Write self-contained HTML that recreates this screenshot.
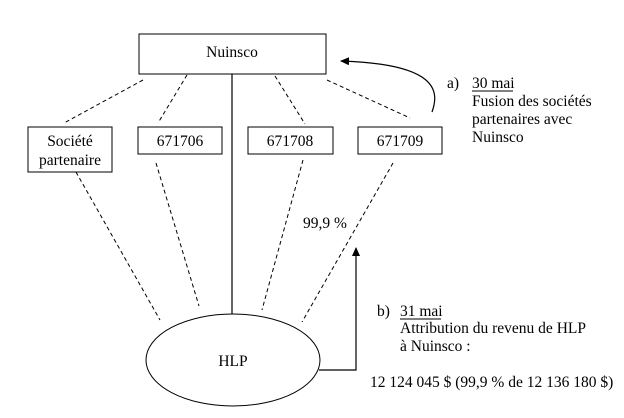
<!DOCTYPE html>
<html><head><style>
body{margin:0;background:#fff;width:624px;height:418px;overflow:hidden}
svg{display:block}
text{font-family:"Liberation Serif",serif;font-size:15.5px;fill:#000}
</style></head><body>
<svg width="624" height="418" viewBox="0 0 624 418">
<defs><marker id="ah" markerWidth="9" markerHeight="8" refX="8" refY="4" orient="auto" markerUnits="userSpaceOnUse"><path d="M0,0 L9,4 L0,8 Z" fill="#000"/></marker></defs>
<g fill="#fff" stroke="#000" stroke-width="1">
<rect x="139" y="34" width="187" height="40"/>
<rect x="28" y="127" width="84" height="45"/>
<rect x="138" y="127" width="84" height="27"/>
<rect x="248" y="127" width="85" height="27"/>
<rect x="358" y="127" width="84" height="27"/>
<ellipse cx="233" cy="360" rx="87" ry="46"/>
</g>
<g stroke="#000" stroke-width="1" fill="none" stroke-dasharray="4,3">
<line x1="143" y1="80" x2="64" y2="123"/>
<line x1="187" y1="75" x2="158" y2="123"/>
<line x1="275" y1="76" x2="305" y2="124"/>
<line x1="327" y1="80" x2="410" y2="118"/>
<line x1="76" y1="172" x2="160" y2="320"/>
<line x1="156" y1="163" x2="199" y2="306"/>
<line x1="303" y1="160" x2="262" y2="310"/>
<line x1="393" y1="163" x2="302" y2="322"/>
</g>
<g stroke="#000" stroke-width="1.2" fill="none">
<line x1="232" y1="74" x2="232" y2="314"/>
<polyline points="319,370 356,370 356,248" marker-end="url(#ah)"/>
<path d="M432,112 C440,90 436,64 341,61" marker-end="url(#ah)"/>
</g>
<text x="232" y="57" text-anchor="middle">Nuinsco</text>
<text x="70" y="146" text-anchor="middle">Société</text>
<text x="70" y="165" text-anchor="middle">partenaire</text>
<text x="180" y="146" text-anchor="middle">671706</text>
<text x="290" y="146" text-anchor="middle">671708</text>
<text x="400" y="146" text-anchor="middle">671709</text>
<text x="233" y="366" text-anchor="middle">HLP</text>
<text x="303" y="228">99,9 %</text>
<text x="447" y="88">a)</text>
<text x="472" y="88">30 mai</text>
<text x="472" y="106">Fusion des sociétés</text>
<text x="472" y="124">partenaires avec</text>
<text x="472" y="142">Nuinsco</text>
<text x="377" y="316">b)</text>
<text x="400" y="316">31 mai</text>
<text x="400" y="333">Attribution du revenu de HLP</text>
<text x="400" y="351">à Nuinsco :</text>
<text x="370" y="387">12 124 045 $ (99,9 % de 12 136 180 $)</text>
<line x1="472" y1="91" x2="513" y2="91" stroke="#000"/>
<line x1="400" y1="319" x2="441" y2="319" stroke="#000"/>
</svg>
</body></html>
